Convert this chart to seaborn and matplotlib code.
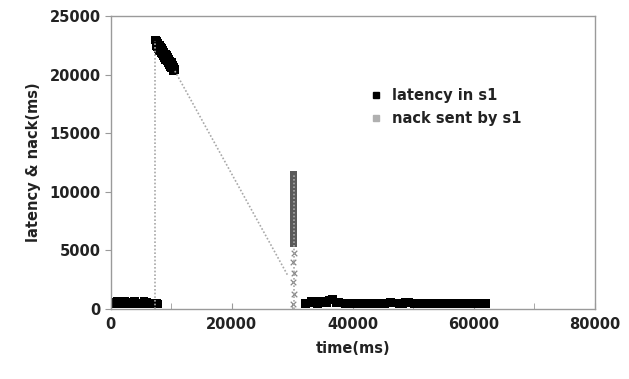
import matplotlib
matplotlib.use("Agg")
import matplotlib.pyplot as plt
import seaborn as sns
import pandas as pd
from matplotlib.ticker import MultipleLocator
from matplotlib.lines import Line2D

# ---- data ----
# latency in s1 (black squares)
lat_time_1 = [300, 700, 1100, 1500, 1900, 2300, 2700, 3100, 3500, 3900, 4300,
              4700, 5100, 5500, 5900, 6300, 6700, 7100, 7500, 7800]
lat_val_1 = [450, 520, 600, 480, 430, 650, 520, 450, 480, 620, 500,
             440, 470, 600, 520, 450, 480, 430, 450, 420]
lat_time_2 = [7400, 7600, 7800, 8000, 8200, 8400, 8600, 8800, 9000, 9200,
              9400, 9600, 9800, 10000, 10200, 10400, 10600,
              7500, 7700, 7900, 8100, 8300, 8500, 8700, 8900, 9100, 9300,
              9500, 9700, 9900, 10100, 10300,
              7600, 8000, 8400, 8800, 9200, 9600, 10000]
lat_val_2 = [22950, 22800, 22650, 22500, 22350, 22200, 22050, 21900, 21750,
             21600, 21450, 21300, 21150, 20950, 20800, 20600, 20400,
             22500, 22350, 22200, 22050, 21900, 21750, 21600, 21450, 21300,
             21150, 21000, 20850, 20700, 20550, 20350,
             22800, 22500, 22200, 21900, 21600, 21300, 21000]
lat_time_3 = [32200, 32700, 33200, 33700, 34200, 34700, 35200, 35700, 36200,
              36700, 37200, 37700, 38200, 38700, 39200, 39700, 40200, 40700,
              41200, 41700, 42200, 42700, 43200, 43700, 44200, 44700, 45200,
              45700, 46200, 46700, 47200, 47700, 48200, 48700, 49200, 49700,
              50200, 50700, 51200, 51700, 52200, 52700, 53200, 53700, 54200,
              54700, 55200, 55700, 56200, 56700, 57200, 57700, 58200, 58700,
              59200, 59700, 60200, 60700, 61200, 61700, 62000]
lat_val_3 = [450, 500, 650, 520, 480, 600, 500, 520, 750, 800, 560, 520,
             500, 480, 500, 470, 480, 500, 480, 470, 490, 500, 480, 470,
             500, 480, 470, 500, 520, 510, 500, 480, 490, 520, 540, 500,
             480, 510, 500, 480, 470, 490, 500, 470, 480, 460, 470, 480,
             470, 460, 480, 470, 460, 450, 470, 460, 450, 460, 450, 440, 430]

# nack sent by s1 (gray)
nack_seg = ["a", "a", "b", "b", "c", "c"]
nack_time = [7300, 7300, 10600, 29300, 30200, 30200]
nack_val = [0, 22900, 20300, 2800, 0, 11500]
nack_dense_time = [30200] * 21
nack_dense_val = [5600, 5900, 6200, 6500, 6800, 7100, 7400, 7700, 8000, 8300,
                  8600, 8900, 9200, 9500, 9800, 10100, 10400, 10700, 11000,
                  11300, 11500]
nack_low_time = [30100, 30200, 30100, 30200, 30100, 30200]
nack_low_val = [400, 1300, 2300, 3100, 4000, 4800]

x_ticks = [0, 20000, 40000, 60000, 80000]
y_ticks = [0, 5000, 10000, 15000, 20000, 25000]

# ---- build tables ----
lat = pd.DataFrame({
    "time": lat_time_1 + lat_time_2 + lat_time_3,
    "value": lat_val_1 + lat_val_2 + lat_val_3,
})
nack = pd.DataFrame({"time": nack_time, "value": nack_val, "seg": nack_seg})
nack_dense = pd.DataFrame({"time": nack_dense_time, "value": nack_dense_val})
nack_low = pd.DataFrame({"time": nack_low_time, "value": nack_low_val})

sns.set_style("white")
plt.rcParams["font.family"] = ["DejaVu Sans"]

fig = plt.figure(figsize=(6.29, 3.79), dpi=100)
ax = fig.add_axes([0.176, 0.185, 0.770, 0.773])

sns.lineplot(data=nack, x="time", y="value", units="seg", estimator=None,
             sort=False, color="#a8a8a8", linestyle=(0, (1, 1.2)),
             linewidth=1.2, ax=ax, legend=False)
sns.scatterplot(data=nack_low, x="time", y="value", marker="x", s=16,
                color="#888888", linewidth=0.9, ax=ax, legend=False)
sns.scatterplot(data=nack_dense, x="time", y="value", marker="s", s=26,
                color="#5a5a5a", edgecolor="none", ax=ax, legend=False)
sns.scatterplot(data=lat, x="time", y="value", marker="s", s=40,
                color="black", edgecolor="none", ax=ax, legend=False)

ax.set_xlim(0, 80000)
ax.set_ylim(0, 25000)
ax.set_xticks(x_ticks)
ax.set_yticks(y_ticks)
ax.set_xticklabels([str(v) for v in x_ticks])
ax.set_yticklabels([str(v) for v in y_ticks])
ax.xaxis.set_minor_locator(MultipleLocator(10000))

for s in ax.spines.values():
    s.set_color("#9a9a9a")
    s.set_linewidth(1.0)

ax.tick_params(axis="x", which="both", direction="in", length=4,
               color="#9a9a9a", labelsize=10.5, pad=6, bottom=True)
ax.tick_params(axis="y", which="both", direction="out", length=4,
               color="#9a9a9a", labelsize=10.5, pad=3, left=True)
for lbl in ax.get_xticklabels() + ax.get_yticklabels():
    lbl.set_fontweight("bold")
    lbl.set_color("#222222")

ax.set_xlabel("time(ms)", fontsize=10.5, fontweight="bold", color="#222222",
              labelpad=6)
ax.set_ylabel("latency & nack(ms)", fontsize=10.5, fontweight="bold",
              color="#222222", labelpad=6)

handles = [
    Line2D([], [], marker="s", color="black", linestyle="none", markersize=5),
    Line2D([], [], marker="s", color="#b0b0b0", linestyle="none", markersize=4),
]
leg = ax.legend(handles, ["latency in s1", "nack sent by s1"],
                loc="upper left", bbox_to_anchor=(0.505, 0.80), frameon=False,
                handletextpad=0.6, labelspacing=0.6, handlelength=1.0,
                prop={"size": 10.5, "weight": "bold"})
for t in leg.get_texts():
    t.set_color("#222222")

fig.savefig("out.png", dpi=100)
